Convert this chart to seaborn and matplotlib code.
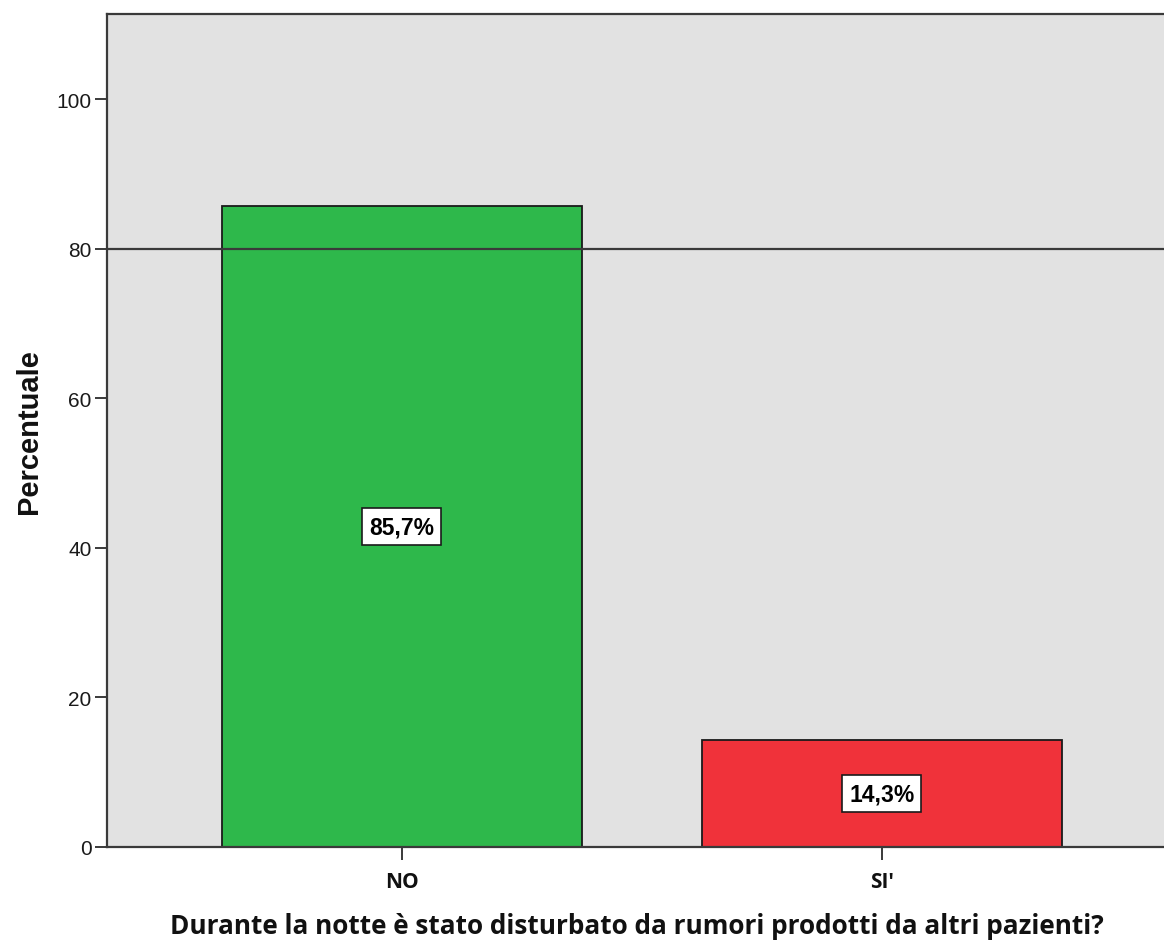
import matplotlib
matplotlib.use("Agg")
import matplotlib.pyplot as plt
import seaborn as sns
import pandas as pd

categories = ["NO", "SI'"]
values = [85.7, 14.3]
labels = ["85,7%", "14,3%"]
colors = ["#2eb84b", "#f0323a"]
ref_value = 80

sns.set_theme(style="white")
plt.rcParams['font.family'] = ['Liberation Sans', 'DejaVu Sans']

df = pd.DataFrame({"cat": categories, "val": values})

fig = plt.figure(figsize=(11.64, 9.45), dpi=100)
ax = fig.add_axes([107/1164, 97/945, 1 - 107/1164 + 0.002, (848-15)/945])
ax.set_facecolor("#e2e2e2")

sns.barplot(data=df, x="cat", y="val", hue="cat", palette=colors, legend=False,
            saturation=1, width=0.75, edgecolor="#1a1a1a", linewidth=1.3, ax=ax, zorder=2)

ax.axhline(ref_value, color="#3a3a3a", linewidth=1.6, zorder=3)

for i, (v, lab) in enumerate(zip(values, labels)):
    ax.text(i, v / 2, lab, ha="center", va="center", fontsize=16.5, fontweight="bold",
            color="black", zorder=4,
            bbox=dict(boxstyle="square,pad=0.3", facecolor="white", edgecolor="#1a1a1a", linewidth=1.2))

ax.set_xlim(-0.614, 1.593)
ax.set_ylim(0, 111.4)
ax.set_yticks([0, 20, 40, 60, 80, 100])
ax.tick_params(axis="y", labelsize=15, length=9, width=1.4, color="#3a3a3a", direction="out", left=True, pad=2)
ax.tick_params(axis="x", length=9, width=1.4, color="#3a3a3a", direction="out", bottom=True, pad=8)
for t in ax.get_yticklabels():
    t.set_color("#1a1a1a")
for t in ax.get_xticklabels():
    t.set_fontweight("bold")
    t.set_family(["Open Sans", "DejaVu Sans"])
    t.set_fontsize(15)
    t.set_color("#111111")

for side in ["left", "bottom", "top"]:
    ax.spines[side].set_color("#3a3a3a")
    ax.spines[side].set_linewidth(1.6)
ax.spines["right"].set_visible(False)

ax.set_ylabel("Percentuale", fontsize=21, fontweight="bold", labelpad=10, color="#111111")
ax.set_xlabel("Durante la notte è stato disturbato da rumori prodotti da altri pazienti?",
              fontsize=18.8, fontweight="bold", labelpad=15, color="#111111",
              family=["Open Sans", "DejaVu Sans"])

fig.savefig("out.png", dpi=100)
